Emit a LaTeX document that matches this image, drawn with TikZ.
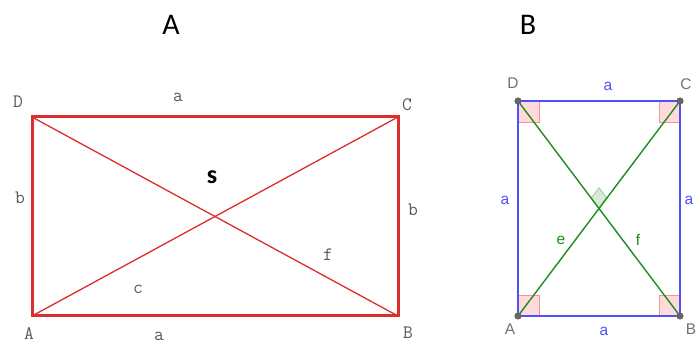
\documentclass[tikz,border=0pt]{standalone}
\usepackage{fontspec}
\setmainfont{Carlito}
\newfontfamily\geofont{Liberation Sans}
\usetikzlibrary{calc}
\definecolor{rectred}{RGB}{222,45,45}
\definecolor{geoblue}{RGB}{80,80,250}
\definecolor{geogreen}{RGB}{30,140,30}
\definecolor{anglepink}{RGB}{255,218,218}
\definecolor{anglered}{RGB}{245,150,150}
\tikzset{
  oldlabel/.style={font=\ttfamily\fontsize{19}{19}\selectfont, text=black!65, inner sep=0pt},
  geolabel/.style={font=\geofont\fontsize{15.5}{15.5}\selectfont, inner sep=0pt},
  rightangle/.style={fill=anglepink, draw=anglered, line width=0.8pt},
}

\begin{document}
\begin{tikzpicture}[x=1pt,y=-1pt]
\useasboundingbox (0,0) rectangle (696,344);
\fill[white] (0,0) rectangle (696,344);
% titles
\node[font=\fontsize{30}{30}\selectfont] (titleA) at (171,25) {A};
\node[font=\fontsize{30}{30}\selectfont] (titleB) at (528,25) {B};

% Rectangle A
\begin{scope}
\coordinate (A1) at (32,316);
\coordinate (B1) at (398,316);
\coordinate (C1) at (398,117);
\coordinate (D1) at (32,117);
\draw[rectred, line width=1.3pt] (A1) -- (C1);
\draw[rectred, line width=1.3pt] (D1) -- (B1);
\draw[rectred, line width=3pt] (A1) -- (B1) -- (C1) -- (D1) -- cycle;
\node[oldlabel] (labA1) at (29,334) {A};
\node[oldlabel] (labB1) at (408,333) {B};
\node[oldlabel] (labC1) at (407,105) {C};
\node[oldlabel] (labD1) at (18,102) {D};
\node[oldlabel] (top1) at (178,97) {a};
\node[oldlabel] (bottom1) at (159,336) {a};
\node[oldlabel] (left1) at (20,198) {b};
\node[oldlabel] (right1) at (413,210) {b};
\node[oldlabel] (diagc) at (138,289) {c};
\node[oldlabel] (diagf) at (328,255) {f};
\node[font=\bfseries\fontsize{26}{26}\selectfont, inner sep=0pt] (area) at (212,177) {s};
\end{scope}

% Square B
\begin{scope}
\coordinate (A2) at (518,316);
\coordinate (B2) at (680,316);
\coordinate (C2) at (680,101);
\coordinate (D2) at (518,101);
\coordinate (M2) at ($(A2)!0.5!(C2)$);
\draw[rightangle] (A2) rectangle ++(21,-21);
\draw[rightangle] (B2) rectangle ++(-21,-21);
\draw[rightangle] (C2) rectangle ++(-21,21);
\draw[rightangle] (D2) rectangle ++(21,21);
\coordinate (Md) at ($(M2)!13pt!(D2)$);
\coordinate (Mc) at ($(M2)!13pt!(C2)$);
\draw[fill=geogreen!18, draw=geogreen!45, line width=0.8pt] (M2) -- (Md) -- ($(Md)+(Mc)-(M2)$) -- (Mc) -- cycle;
\draw[geoblue, line width=1.5pt] (A2) -- (B2) -- (C2) -- (D2) -- cycle;
\draw[geogreen, line width=1.4pt] (A2) -- (C2);
\draw[geogreen, line width=1.4pt] (D2) -- (B2);
\foreach \p in {A2,B2,C2,D2}
  \fill[black!60] (\p) circle (3.6);
\node[geolabel, text=black!55] (labA2) at (510,329) {A};
\node[geolabel, text=black!55] (labB2) at (691,329) {B};
\node[geolabel, text=black!55] (labC2) at (686,84) {C};
\node[geolabel, text=black!55] (labD2) at (513,83) {D};
\node[geolabel, text=geoblue] (top2) at (608,86) {a};
\node[geolabel, text=geoblue] (bottom2) at (604,331) {a};
\node[geolabel, text=geoblue] (left2) at (505,200) {a};
\node[geolabel, text=geoblue] (right2) at (689,200) {a};
\node[geolabel, text=geogreen] (diage) at (561,240) {e};
\node[geolabel, text=geogreen] (diagf2) at (638,240) {f};
\end{scope}
\end{tikzpicture}
\end{document}
